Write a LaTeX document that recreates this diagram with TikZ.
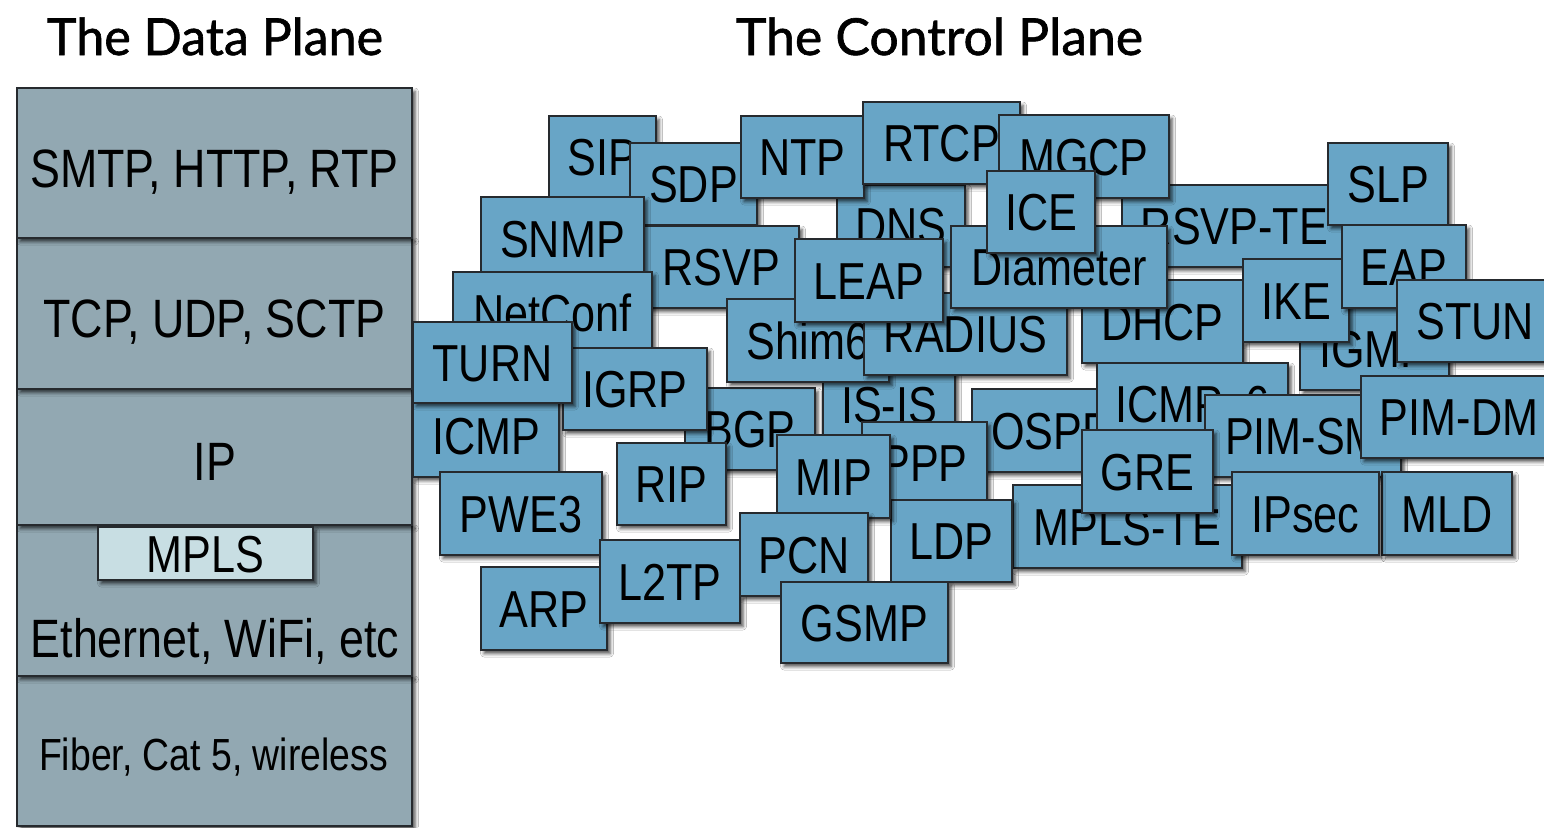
\documentclass[tikz,border=0pt]{standalone}
\usepackage{graphicx}
\usepackage{fontspec}
\usetikzlibrary{shadows.blur}

\newfontfamily\protofont{Liberation Sans}[FakeStretch=0.83]
\newfontfamily\titlefont{Lato}[FakeBold=1.2]

\definecolor{protoblue}{RGB}{104,165,198}
\definecolor{layergray}{RGB}{146,168,178}
\definecolor{mplsfill}{RGB}{200,222,227}
\definecolor{edgegray}{RGB}{38,42,46}

\tikzset{
  boxshadow/.style={blur shadow={shadow xshift=3pt, shadow yshift=-3.5pt,
      shadow blur radius=3.5pt, shadow opacity=70}},
  proto/.style={draw=edgegray, line width=1.4pt, fill=protoblue, inner sep=0pt,
      font=\protofont\fontsize{52}{60}\selectfont, text height=37pt, text depth=0pt,
      boxshadow},
  layer/.style={draw=edgegray, line width=1.4pt, fill=layergray, inner sep=0pt,
      minimum width=395pt, boxshadow},
  layertext/.style={anchor=base, inner sep=0pt, font=\protofont\fontsize{54}{60}\selectfont},
  title/.style={anchor=base, inner sep=0pt, font=\titlefont\fontsize{51}{60}\selectfont},
}

% \protobox{name}{left}{top}{right}{bottom}{label}
\newcommand\protobox[6]{%
  \pgfmathsetmacro\pbcx{(#2+#4)/2}%
  \pgfmathsetmacro\pbcy{(#3+#5)/2}%
  \pgfmathsetmacro\pbw{#4-#2}%
  \pgfmathsetmacro\pbh{#5-#3}%
  \node[proto, minimum width=\pbw pt, minimum height=\pbh pt] (#1) at (\pbcx,\pbcy) {#6};}

\begin{document}
\begin{tikzpicture}[x=1pt,y=-1pt]
\useasboundingbox (0,0) rectangle (1544,827);
\fill[white] (0,0) rectangle (1544,827);
\clip (0,0) rectangle (1544,827);

% titles
\node[title] (dataplane) at (215,55) {\resizebox{336pt}{\height}{The Data Plane}};
\node[title] (controlplane) at (939.5,55) {\resizebox{407pt}{\height}{The Control Plane}};

% data plane stack, drawn bottom-up so each shadow falls on the layer below
\node[layer, minimum height=150pt] (phys) at (214.5,751) {};
\node[layer, minimum height=151pt] (link) at (214.5,600.5) {};
\node[layer, minimum height=136pt] (net) at (214.5,457) {};
\node[layer, minimum height=151pt] (transport) at (214.5,313.5) {};
\node[layer, minimum height=150pt] (app) at (214.5,163) {};

\node[layertext] (apptext) at (214.5,187) {SMTP, HTTP, RTP};
\node[layertext] (transporttext) at (214.5,337) {TCP, UDP, SCTP};
\node[layertext] (nettext) at (215,480) {IP};
\node[layertext] (linktext) at (215,657) {Ethernet, WiFi, etc};
\node[layertext, font=\protofont\fontsize{45}{50}\selectfont] (phystext) at (213.5,770) {Fiber, Cat 5, wireless};

\node[draw=edgegray, line width=1.4pt, fill=mplsfill, boxshadow, inner sep=0pt,
      minimum width=215pt, minimum height=53pt,
      font=\protofont\fontsize{52}{60}\selectfont, text height=37pt, text depth=0pt]
      (mpls) at (205.5,553.5) {MPLS};

% control plane protocols, back to front
\protobox{sip}{549}{116}{656}{198}{SIP}
\protobox{sdp}{630}{143}{757}{225}{SDP}
\protobox{dns}{837}{185}{965}{267}{DNS}
\protobox{ntp}{741}{116}{864}{198}{NTP}
\protobox{rsvpte}{1122}{185}{1347}{267}{RSVP-TE}
\protobox{rtcp}{863}{102}{1020}{184}{RTCP}
\protobox{mgcp}{999}{115}{1169}{198}{MGCP}
\protobox{slp}{1328}{143}{1448}{225}{SLP}
\protobox{rsvp}{644}{226}{799}{308}{RSVP}
\protobox{snmp}{481}{197}{644}{280}{SNMP}
\protobox{netconf}{453}{272}{652}{354}{NetConf}
\protobox{icmp}{413}{395}{559}{477}{ICMP}
\protobox{bgp}{685}{388}{815}{470}{BGP}
\protobox{igrp}{563}{348}{707}{430}{IGRP}
\protobox{turn}{413}{322}{572}{403}{TURN}
\protobox{isis}{823}{364}{955}{446}{IS-IS}
\protobox{shim}{727}{299}{889}{382}{Shim6}
\protobox{radius}{864}{293}{1067}{375}{RADIUS}
\protobox{dhcp}{1082}{280}{1243}{363}{DHCP}
\protobox{diameter}{951}{226}{1167}{308}{Diameter}
\protobox{ice}{987}{171}{1095}{253}{ICE}
\protobox{leap}{795}{239}{943}{322}{LEAP}
\protobox{ospf}{972}{389}{1128}{472}{OSPF}
\protobox{icmpsix}{1097}{363}{1288}{445}{ICMPv6}
\protobox{igmp}{1300}{308}{1449}{390}{IGMP}
\protobox{ike}{1243}{259}{1349}{342}{IKE}
\protobox{eap}{1342}{225}{1466}{308}{EAP}
\protobox{stun}{1397}{280}{1553}{362}{STUN}
\protobox{pimsm}{1205}{395}{1401}{477}{PIM-SM}
\protobox{pimdm}{1361}{376}{1557}{458}{PIM-DM}
\protobox{mld}{1382}{472}{1512}{555}{MLD}
\protobox{mplste}{1013}{485}{1242}{568}{MPLS-TE}
\protobox{ipsec}{1232}{472}{1379}{555}{IPsec}
\protobox{gre}{1082}{430}{1213}{513}{GRE}
\protobox{ppp}{862}{422}{987}{503}{PPP}
\protobox{ldp}{891}{500}{1012}{582}{LDP}
\protobox{mip}{777}{435}{890}{518}{MIP}
\protobox{rip}{617}{443}{726}{525}{RIP}
\protobox{pwe}{440}{472}{602}{555}{PWE3}
\protobox{arp}{481}{567}{607}{650}{ARP}
\protobox{ltp}{600}{540}{740}{623}{L2TP}
\protobox{pcn}{740}{513}{868}{596}{PCN}
\protobox{gsmp}{781}{582}{948}{663}{GSMP}
\end{tikzpicture}
\end{document}
